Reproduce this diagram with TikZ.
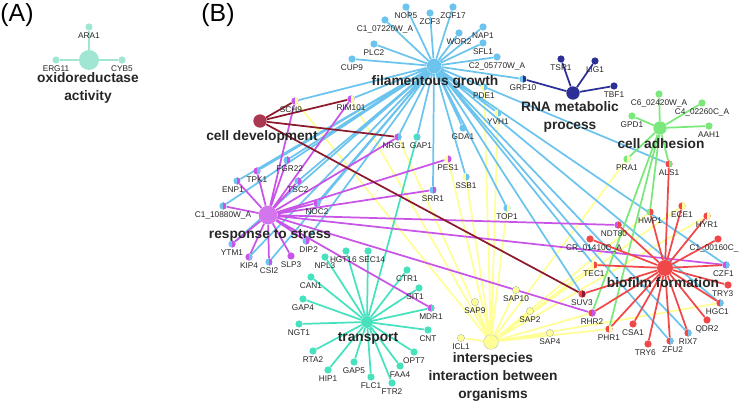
\documentclass[tikz,border=0pt]{standalone}
\usepackage{fontspec}
\setmainfont{Liberation Sans}
\usetikzlibrary{positioning,backgrounds}

\definecolor{fgc}{RGB}{108,196,238}
\definecolor{rnac}{RGB}{44,48,150}
\definecolor{adhc}{RGB}{122,232,122}
\definecolor{devc}{RGB}{140,26,44}
\definecolor{devhub}{RGB}{170,56,80}
\definecolor{strc}{RGB}{200,84,232}
\definecolor{trc}{RGB}{70,226,190}
\definecolor{bioc}{RGB}{240,72,72}
\definecolor{intc}{RGB}{255,255,150}
\definecolor{oxc}{RGB}{160,230,210}

\tikzset{
  gene/.style={circle, inner sep=0pt, minimum size=5.4pt},
  pie/.style 2 args={gene, fill=#1,
    path picture={\fill[#2] (path picture bounding box.south) rectangle (path picture bounding box.north east);}},
  intnode/.style={gene, fill=intc, draw=black!30, line width=0.3pt},
  hub/.style={circle, inner sep=0pt, minimum size=10pt},
  glabel/.style={font=\fontsize{6.2}{7}\selectfont, inner sep=0.5pt, text=black!85},
  hlabel/.style={font=\fontsize{10.3}{13.5}\selectfont\bfseries, align=center, text=black!85, inner sep=0pt},
  every label/.style={glabel},
  label distance=0.6pt,
  fge/.style={draw=fgc, line width=1.3pt},
  rnae/.style={draw=rnac, line width=1.3pt},
  adhe/.style={draw=adhc, line width=1.3pt},
  deve/.style={draw=devc, line width=1.3pt},
  stre/.style={draw=strc, line width=1.3pt},
  tre/.style={draw=trc, line width=1.3pt},
  bioe/.style={draw=bioc, line width=1.3pt},
  inte/.style={draw=intc, line width=1.3pt},
  oxe/.style={draw=oxc, line width=1.3pt}
}

\begin{document}
\begin{tikzpicture}[x=0.75pt, y=-0.75pt]
  \useasboundingbox (0,0) rectangle (740,402);

  % panel labels
  \node[font=\fontsize{18.6}{20}\selectfont] (pA) at (17,15) {(A)};
  \node[font=\fontsize{18.6}{20}\selectfont] (pB) at (218,15) {(B)};

  % panel A
  \node[hub, fill=oxc, minimum size=15pt] (oxi) at (89,60) {};
  \node[gene, fill=oxc, label=below:ARA1] (ara1) at (89,27) {};
  \node[gene, fill=oxc, label=below:ERG11] (erg11) at (56,60) {};
  \node[gene, fill=oxc, label=below:CYB5] (cyb5) at (122,60) {};

  % hubs
  \node[hub, fill=fgc, minimum size=11pt] (fg) at (434,66) {};
  \node[hub, fill=rnac] (rna) at (573,93) {};
  \node[hub, fill=adhc] (adh) at (660,128) {};
  \node[hub, fill=devhub] (dev) at (260,121) {};
  \node[hub, fill=strc!80, minimum size=14pt] (str) at (268,215) {};
  \node[hub, fill=trc, minimum size=9pt] (tr) at (367,322) {};
  \node[hub, fill=bioc, minimum size=12pt] (bio) at (665,268) {};
  \node[hub, fill=intc, draw=black!25, line width=0.3pt, minimum size=11pt] (int) at (491,342) {};

  % filamentous growth genes
  \node[gene, fill=fgc, label=below:NOP5] (nop5) at (406,7) {};
  \node[gene, fill=fgc, label=below:ZCF3] (zcf3) at (430,13) {};
  \node[gene, fill=fgc, label=below:ZCF17] (zcf17) at (453,7) {};
  \node[gene, fill=fgc, label=below:C1\_07220W\_A] (c107220) at (385,20) {};
  \node[gene, fill=fgc, label=below:NAP1] (nap1) at (483,27) {};
  \node[gene, fill=fgc, label=below:WOR2] (wor2) at (459,33) {};
  \node[gene, fill=fgc, label=below:PLC2] (plc2) at (374,44) {};
  \node[gene, fill=fgc, label=below:SFL1] (sfl1) at (483,43) {};
  \node[gene, fill=fgc, label=below:C2\_05770W\_A] (c205770) at (497,57) {};
  \node[gene, fill=fgc, label=below:CUP9] (cup9) at (352,59) {};
  \node[gene, fill=fgc, label=below:GDA1] (gda1) at (463,128) {};
  \node[pie={fgc}{rnac}, label=below:GRF10] (grf10) at (523,79) {};
  \node[pie={intc}{fgc}, label=below:PDE1] (pde1) at (484,87) {};
  \node[pie={intc}{fgc}, label=below:YVH1] (yvh1) at (498,113) {};
  \node[pie={intc}{fgc}, label=below:SSB1] (ssb1) at (466,177) {};
  \node[pie={fgc}{intc}, label=below:TOP1] (top1) at (507,208) {};
  \node[pie={trc}{fgc}, label={[xshift=3pt]below:GAP1}] (gap1) at (417,137) {};
  \node[pie={strc}{fgc}, label={[xshift=-3pt]below:NRG1}] (nrg1) at (398,137) {};
  \node[pie={strc}{intc}, label=below:RIM101] (rim101) at (351,99) {};
  \node[pie={strc}{intc}, label={[xshift=-3pt]below:SCH9}] (sch9) at (295,101) {};
  \node[pie={intc}{strc}, label=below:PES1] (pes1) at (448,159) {};
  \node[pie={fgc}{strc}, label=below:SRR1] (srr1) at (433,190) {};

  % RNA metabolic genes
  \node[gene, fill=rnac, label=below:TSR1] (tsr1) at (561,59) {};
  \node[gene, fill=rnac, label=below:LIG1] (lig1) at (595,61) {};
  \node[gene, fill=rnac, label=below:TBF1] (tbf1) at (614,86) {};

  % cell adhesion genes
  \node[gene, fill=adhc, label=below:C6\_02420W\_A] (c602420) at (659,94) {};
  \node[gene, fill=adhc, label=below:C4\_02260C\_A] (c402260) at (702,103) {};
  \node[gene, fill=adhc, label=below:GPD1] (gpd1) at (632,116) {};
  \node[gene, fill=adhc, label=below:AAH1] (aah1) at (709,126) {};
  \node[pie={adhc}{intc}, label=below:PRA1] (pra1) at (627,159) {};
  \node[pie={bioc}{adhc}, label=below:ALS1] (als1) at (669,164) {};
  \node[pie={adhc}{bioc}, label=below:HWP1] (hwp1) at (650,212) {};

  % response to stress genes
  \node[pie={fgc}{strc}, label={[xshift=2pt]below:FGR22}] (fgr22) at (287,160) {};
  \node[pie={strc}{fgc}, label=below:TPK1] (tpk1) at (257,171) {};
  \node[pie={fgc}{strc}, label={[xshift=-3pt]below:ENP1}] (enp1) at (237,181) {};
  \node[pie={fgc}{strc}, label=below:TSC2] (tsc2) at (298,181) {};
  \node[pie={fgc}{strc}, label=below:C1\_10880W\_A] (c110880) at (223,206) {};
  \node[pie={strc}{fgc}, label=below:NOC2] (noc2) at (317,203) {};
  \node[pie={fgc}{strc}, label=below:YTM1] (ytm1) at (232,244) {};
  \node[pie={strc}{fgc}, label=below:KIP4] (kip4) at (249,257) {};
  \node[pie={fgc}{strc}, label=below:CSI2] (csi2) at (269,262) {};
  \node[gene, fill=strc, label=below:SLP3] (slp3) at (291,256) {};
  \node[pie={fgc}{strc}, label={[xshift=2pt]below:DIP2}] (dip2) at (306,241) {};

  % transport genes
  \node[gene, fill=trc, label=below:NPL3] (npl3) at (325,257) {};
  \node[gene, fill=trc, label={[xshift=-2pt]below:HGT16}] (hgt16) at (346,251) {};
  \node[gene, fill=trc, label={[xshift=3pt]below:SEC14}] (sec14) at (368,251) {};
  \node[gene, fill=trc, label=below:CAN1] (can1) at (311,277) {};
  \node[gene, fill=trc, label=below:CTR1] (ctr1) at (407,270) {};
  \node[gene, fill=trc, label={[xshift=-3pt]below:SIT1}] (sit1) at (419,288) {};
  \node[pie={strc}{trc}, label=below:MDR1] (mdr1) at (431,308) {};
  \node[gene, fill=trc, label=below:GAP4] (gap4) at (303,299) {};
  \node[gene, fill=trc, label=below:NGT1] (ngt1) at (299,324) {};
  \node[gene, fill=trc, label=below:CNT] (cnt) at (428,330) {};
  \node[gene, fill=trc, label=below:RTA2] (rta2) at (313,351) {};
  \node[gene, fill=trc, label=below:OPT7] (opt7) at (414,352) {};
  \node[gene, fill=trc, label=below:GAP5] (gap5) at (354,362) {};
  \node[gene, fill=trc, label=below:FAA4] (faa4) at (400,366) {};
  \node[gene, fill=trc, label=below:HIP1] (hip1) at (328,370) {};
  \node[gene, fill=trc, label=below:FLC1] (flc1) at (371,377) {};
  \node[gene, fill=trc, label=below:FTR2] (ftr2) at (392,383) {};

  % biofilm formation genes
  \node[pie={bioc}{intc}, label=below:ECE1] (ece1) at (682,206) {};
  \node[pie={bioc}{intc}, label=below:HYR1] (hyr1) at (707,216) {};
  \node[pie={strc}{bioc}, label={[xshift=-3pt]below:NDT80}] (ndt80) at (618,225) {};
  \node[gene, fill=bioc, label={[xshift=3pt]below:CR\_01410C\_A}] (cr01410) at (590,239) {};
  \node[gene, fill=bioc, label={[xshift=-3pt]below:C1\_00160C\_}] (c100160) at (718,239) {};
  \node[pie={strc}{fgc}, label={[xshift=-2pt]below:CZF1}] (czf1) at (726,265) {};
  \node[pie={intc}{bioc}, label=below:TEC1] (tec1) at (594,265) {};
  \node[gene, fill=bioc, label={[xshift=-4pt]below:TRY3}] (try3) at (728,285) {};
  \node[pie={bioc}{fgc}, label={[xshift=-2pt]below:HGC1}] (hgc1) at (720,303) {};
  \node[gene, fill=bioc, label=below:QDR2] (qdr2) at (707,320) {};
  \node[pie={bioc}{fgc}, label=below:RIX7] (rix7) at (688,333) {};
  \node[pie={bioc}{fgc}, label={[xshift=2pt]below:ZFU2}] (zfu2) at (670,341) {};
  \node[gene, fill=bioc, label={[xshift=-2pt]below:TRY6}] (try6) at (648,344) {};
  \node[gene, fill=bioc, label=below:CSA1] (csa1) at (633,324) {};
  \node[pie={bioc}{intc}, label=below:PHR1] (phr1) at (609,329) {};
  \node[pie={bioc}{strc}, label=below:RHR2] (rhr2) at (592,313) {};
  \node[pie={bioc}{devc}, label=below:SUV3] (suv3) at (582,294) {};

  % interspecies genes
  \node[intnode, label=below:SAP10] (sap10) at (516,290) {};
  \node[intnode, label=below:SAP9] (sap9) at (475,302) {};
  \node[intnode, label=below:SAP2] (sap2) at (530,311) {};
  \node[intnode, label=below:SAP4] (sap4) at (550,333) {};
  \node[intnode, label=below:ICL1] (icl1) at (461,338) {};

  % category labels
  \node[hlabel] (oxilab) at (88,88) {oxidoreductase\\activity};
  \node[hlabel] (fglab) at (435,82) {filamentous growth};
  \node[hlabel] (rnalab) at (570,117) {RNA metabolic\\process};
  \node[hlabel] (adhlab) at (661,144) {cell adhesion};
  \node[hlabel] (devlab) at (262,137) {cell development};
  \node[hlabel] (strlab) at (270,235) {response to stress};
  \node[hlabel] (trlab) at (368,338) {transport};
  \node[hlabel] (biolab) at (663,283) {biofilm formation};
  \node[hlabel] (intlab) at (493,377) {interspecies\\interaction between\\organisms};

  % edges, behind the nodes
  \begin{pgfonlayer}{background}
    \draw[oxe] (oxi) -- (ara1) (oxi) -- (erg11) (oxi) -- (cyb5);
    \draw[inte] (int) -- (sch9) (int) -- (rim101) (int) -- (nrg1) (int) -- (pes1)
      (int) -- (ssb1) (int) -- (pde1) (int) -- (yvh1) (int) -- (top1)
      (int) -- (pra1) (int) -- (hwp1) (int) -- (ece1) (int) -- (hyr1)
      (int) -- (tec1) (int) -- (hgc1) (int) -- (phr1) (int) -- (rhr2)
      (int) -- (sap10) (int) -- (sap9) (int) -- (sap2) (int) -- (sap4) (int) -- (icl1);
    \draw[fge] (fg) -- (nop5) (fg) -- (zcf3) (fg) -- (zcf17) (fg) -- (c107220)
      (fg) -- (nap1) (fg) -- (wor2) (fg) -- (plc2) (fg) -- (sfl1) (fg) -- (c205770)
      (fg) -- (cup9) (fg) -- (gda1) (fg) -- (grf10) (fg) -- (pde1) (fg) -- (yvh1)
      (fg) -- (ssb1) (fg) -- (top1) (fg) -- (gap1) (fg) -- (nrg1) (fg) -- (rim101)
      (fg) -- (sch9) (fg) -- (srr1) (fg) -- (als1) (fg) -- (czf1) (fg) -- (tec1)
      (fg) -- (hgc1) (fg) -- (rix7) (fg) -- (zfu2) (fg) -- (suv3)
      (fg) -- (fgr22) (fg) -- (tpk1) (fg) -- (enp1) (fg) -- (tsc2) (fg) -- (c110880)
      (fg) -- (noc2) (fg) -- (ytm1) (fg) -- (kip4) (fg) -- (csi2) (fg) -- (dip2);
    \draw[tre] (tr) -- (npl3) (tr) -- (hgt16) (tr) -- (sec14) (tr) -- (can1)
      (tr) -- (ctr1) (tr) -- (sit1) (tr) -- (mdr1) (tr) -- (gap4) (tr) -- (ngt1)
      (tr) -- (cnt) (tr) -- (rta2) (tr) -- (opt7) (tr) -- (gap5) (tr) -- (faa4)
      (tr) -- (hip1) (tr) -- (flc1) (tr) -- (ftr2) (tr) -- (gap1);
    \draw[stre] (str) -- (sch9) (str) -- (rim101) (str) -- (nrg1) (str) -- (fgr22)
      (str) -- (tpk1) (str) -- (enp1) (str) -- (tsc2) (str) -- (c110880) (str) -- (noc2)
      (str) -- (ytm1) (str) -- (kip4) (str) -- (csi2) (str) -- (slp3) (str) -- (dip2)
      (str) -- (pes1) (str) -- (srr1) (str) -- (ndt80) (str) -- (czf1) (str) -- (rhr2)
      (str) -- (mdr1);
    \draw[deve] (dev) -- (sch9) (dev) -- (rim101) (dev) -- (nrg1) (dev) -- (suv3);
    \draw[adhe] (adh) -- (c602420) (adh) -- (c402260) (adh) -- (gpd1) (adh) -- (aah1)
      (adh) -- (pra1) (adh) -- (als1) (adh) -- (hwp1) (adh) -- (rhr2) (adh) -- (phr1);
    \draw[bioe] (bio) -- (als1) (bio) -- (hwp1) (bio) -- (ece1) (bio) -- (hyr1)
      (bio) -- (ndt80) (bio) -- (cr01410) (bio) -- (c100160) (bio) -- (czf1)
      (bio) -- (tec1) (bio) -- (try3) (bio) -- (hgc1) (bio) -- (qdr2) (bio) -- (rix7)
      (bio) -- (zfu2) (bio) -- (try6) (bio) -- (csa1) (bio) -- (phr1) (bio) -- (rhr2)
      (bio) -- (suv3);
    \draw[rnae] (rna) -- (grf10) (rna) -- (tsr1) (rna) -- (lig1) (rna) -- (tbf1);
  \end{pgfonlayer}
\end{tikzpicture}
\end{document}
